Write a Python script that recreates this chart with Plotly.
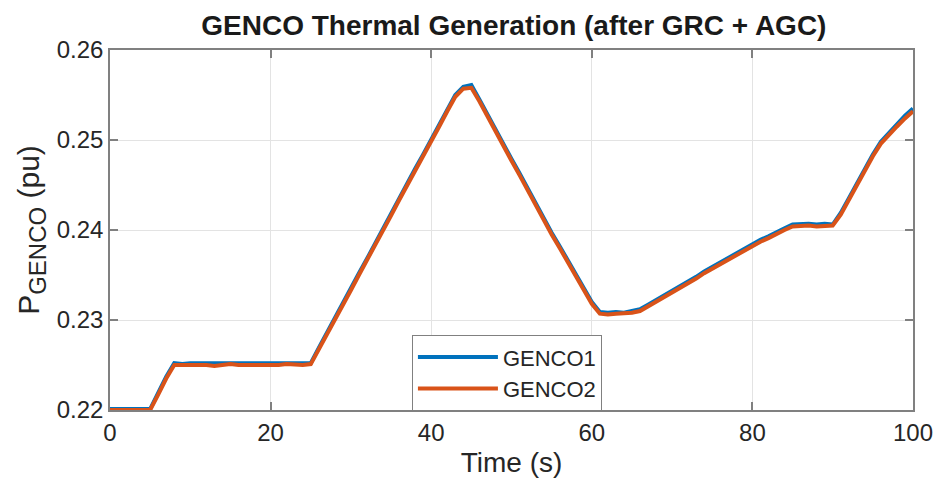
import plotly.graph_objects as go

time_s = list(range(0, 101))

genco2 = [
    0.2200, 0.2200, 0.2199, 0.2200, 0.2200, 0.2200, 0.2217, 0.2235, 0.2250, 0.2250,
    0.2251, 0.2250, 0.2250, 0.2249, 0.2250, 0.2251, 0.2250, 0.2250, 0.2250, 0.2249,
    0.2250, 0.2250, 0.2251, 0.2250, 0.2250, 0.2251, 0.2267, 0.2284, 0.2300, 0.2317,
    0.2333, 0.2350, 0.2366, 0.2383, 0.2400, 0.2416, 0.2433, 0.2449, 0.2466, 0.2482,
    0.2499, 0.2515, 0.2532, 0.2548, 0.2557, 0.2558, 0.2543, 0.2526, 0.2510, 0.2494,
    0.2477, 0.2461, 0.2444, 0.2427, 0.2411, 0.2395, 0.2380, 0.2364, 0.2349, 0.2334,
    0.2318, 0.2307, 0.2306, 0.2307, 0.2307, 0.2308, 0.2310, 0.2315, 0.2320, 0.2325,
    0.2330, 0.2335, 0.2341, 0.2346, 0.2352, 0.2357, 0.2362, 0.2368, 0.2373, 0.2378,
    0.2382, 0.2387, 0.2391, 0.2396, 0.2400, 0.2404, 0.2405, 0.2405, 0.2404, 0.2405,
    0.2405, 0.2417, 0.2433, 0.2450, 0.2467, 0.2482, 0.2496, 0.2506, 0.2515, 0.2524,
    0.2532,
]

genco1 = [
    0.2201, 0.2201, 0.2201, 0.2202, 0.2201, 0.2201, 0.2219, 0.2237, 0.2252, 0.2251,
    0.2252, 0.2252, 0.2251, 0.2252, 0.2252, 0.2252, 0.2251, 0.2252, 0.2252, 0.2251,
    0.2252, 0.2251, 0.2252, 0.2252, 0.2251, 0.2252, 0.2269, 0.2286, 0.2302, 0.2319,
    0.2335, 0.2352, 0.2368, 0.2385, 0.2402, 0.2418, 0.2435, 0.2451, 0.2468, 0.2484,
    0.2501, 0.2517, 0.2534, 0.2550, 0.2559, 0.2561, 0.2545, 0.2528, 0.2512, 0.2496,
    0.2479, 0.2463, 0.2446, 0.2429, 0.2413, 0.2397, 0.2382, 0.2366, 0.2351, 0.2336,
    0.2320, 0.2309, 0.2308, 0.2309, 0.2308, 0.2310, 0.2312, 0.2317, 0.2322, 0.2327,
    0.2332, 0.2337, 0.2343, 0.2348, 0.2354, 0.2359, 0.2364, 0.2370, 0.2375, 0.2380,
    0.2384, 0.2389, 0.2393, 0.2398, 0.2402, 0.2406, 0.2407, 0.2407, 0.2406, 0.2407,
    0.2406, 0.2419, 0.2435, 0.2452, 0.2469, 0.2484, 0.2498, 0.2508, 0.2517, 0.2527,
    0.2535,
]

x_ticks = [0, 20, 40, 60, 80, 100]
y_ticks = [0.22, 0.23, 0.24, 0.25, 0.26]

BLUE = "#0072BD"
ORANGE = "#D95319"
FONT = "Liberation Sans, Arial, sans-serif"

fig = go.Figure()
fig.add_trace(go.Scatter(x=time_s, y=genco1, mode="lines", name="GENCO1",
                         line=dict(color=BLUE, width=4)))
fig.add_trace(go.Scatter(x=time_s, y=genco2, mode="lines", name="GENCO2",
                         line=dict(color=ORANGE, width=4)))

axis_common = dict(
    showline=True, linecolor="#808080", linewidth=1.5, mirror="ticks",
    ticks="inside", ticklen=8, tickcolor="#808080", tickwidth=1.5,
    showgrid=True, gridcolor="#e3e3e3", gridwidth=1, zeroline=False,
    tickfont=dict(family=FONT, size=24, color="#262626"),
    automargin=False,
)

fig.update_layout(
    width=936, height=485,
    margin=dict(l=110, r=23, t=50, b=75),
    paper_bgcolor="white", plot_bgcolor="white",
    title=dict(text="<b>GENCO Thermal Generation (after GRC + AGC)</b>",
               x=0.549, xanchor="center", y=0.948, yanchor="middle",
               font=dict(family=FONT, size=28, color="#1a1a1a")),
    xaxis=dict(range=[0, 100], tickvals=x_ticks, ticktext=[str(v) for v in x_ticks],
               title=dict(text="Time (s)", font=dict(family=FONT, size=28, color="#262626"),
                          standoff=8),
               **axis_common),
    yaxis=dict(range=[0.22, 0.26], tickvals=y_ticks, ticktext=[f"{v:.2f}" for v in y_ticks],
               title=dict(text="P<sub><span style='font-size:24px'>GENCO</span></sub> (pu)",
                          font=dict(family=FONT, size=30, color="#262626"),
                          standoff=8),
               **axis_common),
    legend=dict(x=0.376, y=0.208, xanchor="left", yanchor="top",
                bgcolor="white", bordercolor="#808080", borderwidth=1,
                font=dict(family=FONT, size=22, color="#262626"),
                itemwidth=80, tracegroupgap=0),
    showlegend=True,
)

fig.write_html("out.html")
